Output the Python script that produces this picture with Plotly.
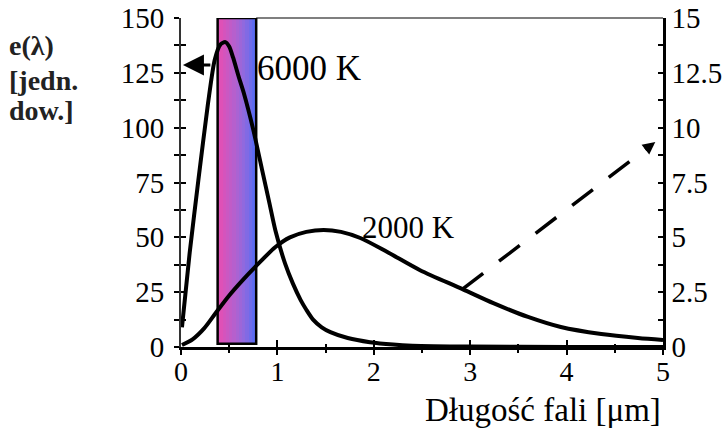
import plotly.graph_objects as go

# ---- data ----
x_6000 = [0.01, 0.09, 0.18, 0.28, 0.35, 0.41, 0.46, 0.50, 0.54, 0.60, 0.65, 0.75, 0.84, 0.92, 0.98, 1.08, 1.16, 1.24, 1.30, 1.37, 1.46, 1.55, 1.73, 1.96, 2.2, 2.4, 3.0, 4.0, 5.0]
y_6000 = [9, 43, 76, 111, 131, 138, 139, 137, 132, 123, 116, 99, 81, 65, 53, 38, 29, 21.5, 17, 12.5, 9, 6.8, 4.1, 2.2, 1.1, 0.6, 0.2, 0.05, 0.02]

x_2000 = [0.01, 0.12, 0.24, 0.36, 0.50, 0.64, 0.77, 0.98, 1.13, 1.30, 1.48, 1.66, 1.86, 2.14, 2.48, 2.92, 3.24, 3.60, 3.94, 4.36, 4.74, 5.0]
y_2000 = [0.09, 0.35, 0.85, 1.55, 2.35, 3.05, 3.65, 4.56, 5.0, 5.25, 5.34, 5.25, 4.97, 4.33, 3.5, 2.64, 2.0, 1.37, 0.91, 0.59, 0.41, 0.32]

visible_range = [0.38, 0.78]        # µm
band_y = [1.5, 150]

x_ticks = [0, 1, 2, 3, 4, 5]
left_ticks = [0, 25, 50, 75, 100, 125, 150]
right_ticks = [0, 2.5, 5, 7.5, 10, 12.5, 15]
right_tick_text = ["0", "2.5", "5", "7.5", "10", "12.5", "15"]

arrow_6000 = dict(x_from=0.32, x_to=0.02, y=128.6)
arrow_2000 = dict(x_from=2.92, y_from=2.64, x_to=4.92, y_to=9.35)

label_6000 = "6000 K"
label_2000 = "2000 K"
y_title_lines = ["e(λ)", "[jedn.", "dow.]"]
x_title = "Długość fali [μm]"

FONT = "Liberation Serif"

fig = go.Figure()

# visible band as vertical stripes
n_str = 24
edges = [visible_range[0] + (visible_range[1] - visible_range[0]) * i / n_str for i in range(n_str + 1)]
zrow = [i + (0.8 if i % 2 else 0) for i in range(n_str)]
fig.add_trace(go.Heatmap(
    x=edges, y=band_y, z=[zrow],
    colorscale=[[0, "#e84db2"], [0.45, "#b261cf"], [0.7, "#8c6ae0"], [1, "#4c6cf6"]],
    showscale=False, zsmooth=False, hoverinfo="skip", xaxis="x", yaxis="y"))

fig.add_trace(go.Scatter(x=x_6000, y=y_6000, mode="lines",
                         line=dict(color="black", width=4, shape="spline", smoothing=0.7),
                         xaxis="x", yaxis="y", showlegend=False))
fig.add_trace(go.Scatter(x=x_2000, y=y_2000, mode="lines",
                         line=dict(color="black", width=4, shape="spline", smoothing=0.8),
                         xaxis="x", yaxis="y2", showlegend=False))
# dashed arrow shaft
fig.add_trace(go.Scatter(x=[arrow_2000["x_from"], arrow_2000["x_to"] - 0.08],
                         y=[arrow_2000["y_from"], arrow_2000["y_to"] - 0.27],
                         mode="lines", line=dict(color="black", width=3.5, dash="26px,20px"),
                         xaxis="x", yaxis="y2", showlegend=False))
# invisible traces to activate overlay tick axes
fig.add_trace(go.Scatter(x=[None], y=[None], xaxis="x2", yaxis="y", showlegend=False))
fig.add_trace(go.Scatter(x=[None], y=[None], xaxis="x", yaxis="y3", showlegend=False))

tickfont = dict(family=FONT, size=29, color="black")

fig.update_layout(
    width=728, height=430,
    margin=dict(l=181, r=65, t=18, b=83, autoexpand=False),
    paper_bgcolor="white", plot_bgcolor="white",
    showlegend=False,
    xaxis=dict(range=[0, 5], tickvals=x_ticks, ticks="outside", ticklen=5, tickwidth=2,
               tickcolor="black", showline=True, linewidth=3, linecolor="black", automargin=False,
               showgrid=False, zeroline=False, tickfont=dict(family=FONT, size=28, color="black"),
               ticklabelstandoff=-8,
               minor=dict(dtick=0.5, ticks="outside", ticklen=3, tickwidth=1.5, tickcolor="black")),
    xaxis2=dict(range=[0, 5], overlaying="x", anchor="y", side="bottom", tickvals=x_ticks,
                ticks="inside", ticklen=7, tickwidth=2, tickcolor="black", showticklabels=False,
                showline=False, showgrid=False, zeroline=False, automargin=False,
                minor=dict(dtick=0.5, ticks="inside", ticklen=3, tickwidth=1.5, tickcolor="black")),
    yaxis=dict(range=[0, 150], tickvals=left_ticks, ticks="outside", ticklen=5, tickwidth=2,
               tickcolor="black", showline=True, linewidth=2, linecolor="#333", automargin=False,
               showgrid=False, zeroline=False, tickfont=tickfont, ticklabelstandoff=4,
               minor=dict(dtick=12.5, ticks="outside", ticklen=5, tickwidth=1.5, tickcolor="black")),
    yaxis3=dict(range=[0, 150], overlaying="y", anchor="x", side="left", tickvals=left_ticks,
                ticks="inside", ticklen=5, tickwidth=2, tickcolor="black", showticklabels=False,
                showline=False, showgrid=False, zeroline=False, automargin=False,
                minor=dict(dtick=12.5, ticks="inside", ticklen=5, tickwidth=1.5, tickcolor="black")),
    yaxis2=dict(range=[0, 15], overlaying="y", anchor="x", side="right", tickvals=right_ticks,
                ticktext=right_tick_text, ticks="inside", ticklen=5, tickwidth=2, tickcolor="black",
                showline=True, linewidth=2.5, linecolor="black", showgrid=False, zeroline=False,
                tickfont=tickfont, ticklabelstandoff=0, automargin=False,
                minor=dict(dtick=1.25, ticks="inside", ticklen=5, tickwidth=1.5, tickcolor="black")),
)

# band border and top frame line
fig.add_shape(type="rect", xref="x", yref="y", x0=visible_range[0], x1=visible_range[1],
              y0=band_y[0], y1=band_y[1], line=dict(color="black", width=2.5), layer="above")
fig.add_shape(type="line", xref="x", yref="paper", x0=visible_range[1], x1=5, y0=1, y1=1,
              line=dict(color="black", width=1.2), layer="above")

# arrows
fig.add_annotation(x=arrow_6000["x_to"], y=arrow_6000["y"], ax=arrow_6000["x_from"], ay=arrow_6000["y"],
                   xref="x", yref="y", axref="x", ayref="y", text="", showarrow=True,
                   arrowhead=2, arrowsize=1.4, arrowwidth=3, arrowcolor="black")
fig.add_annotation(x=arrow_2000["x_to"], y=arrow_2000["y_to"],
                   ax=arrow_2000["x_to"] - 0.1, ay=arrow_2000["y_to"] - 0.34,
                   xref="x", yref="y2", axref="x", ayref="y2", text="", showarrow=True,
                   arrowhead=2, arrowsize=1.0, arrowwidth=2.5, arrowcolor="black")

# labels
fig.add_annotation(x=0.77, y=127, xref="x", yref="y", text=label_6000, showarrow=False,
                   xanchor="left", yanchor="middle", font=dict(family=FONT, size=35, color="black"))
fig.add_annotation(x=1.86, y=5.43, xref="x", yref="y2", text=label_2000, showarrow=False,
                   xanchor="left", yanchor="middle", font=dict(family=FONT, size=31, color="black"))
for line_txt, py in zip(y_title_lines, [0.917, 0.81, 0.72]):
    fig.add_annotation(x=-0.36, y=py, xref="paper", yref="paper", text="<b>" + line_txt + "</b>",
                       showarrow=False, xanchor="left", yanchor="middle",
                       font=dict(family=FONT, size=28, color="#222"))
fig.add_annotation(x=1.0, y=-0.19, xref="paper", yref="paper", text=x_title, showarrow=False,
                   xanchor="right", yanchor="middle", font=dict(family=FONT, size=33, color="black"))

fig.write_html("out.html", config={"displayModeBar": False},
               post_script="document.body.style.margin='0';")
